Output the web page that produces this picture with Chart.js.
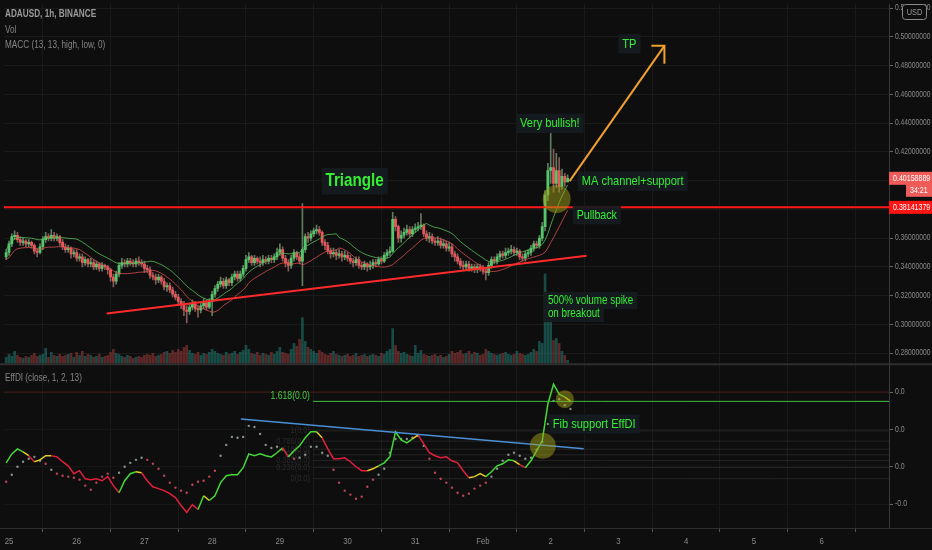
<!DOCTYPE html>
<html>
<head>
<meta charset="utf-8">
<script src="https://cdn.jsdelivr.net/npm/chart.js@4.4.0/dist/chart.umd.min.js"></script>
<style>
  html, body { margin: 0; padding: 0; background: #0e0e0e; }
  #wrap { position: relative; width: 932px; height: 550px; }
</style>
</head>
<body>
<div id="wrap"><canvas id="chart"></canvas></div>
<script>
// time axis is in hours since 25 Jan 00:00, one candle per hour
const dayLabels = ['25', '26', '27', '28', '29', '30', '31', 'Feb', '2', '3', '4', '5', '6', '7'];
const firstHour = -1;
const firstOpen = 0.347;

const closes = [
  0.350, 0.356, 0.361, 0.362, 0.359, 0.357, 0.358, 0.356, 0.357, 0.355,
  0.351, 0.350, 0.354, 0.359, 0.361, 0.360, 0.362, 0.360, 0.361, 0.357,
  0.354, 0.352, 0.353, 0.349, 0.350, 0.346, 0.347, 0.343, 0.345, 0.342,
  0.343, 0.340, 0.342, 0.339, 0.341, 0.340, 0.338, 0.333, 0.330, 0.335,
  0.341, 0.343, 0.342, 0.344, 0.343, 0.342, 0.344, 0.343, 0.342, 0.339,
  0.338, 0.334, 0.333, 0.331, 0.333, 0.330, 0.326, 0.327, 0.324, 0.321,
  0.319, 0.316, 0.314, 0.310, 0.309, 0.312, 0.314, 0.311, 0.310, 0.313,
  0.315, 0.312, 0.316, 0.321, 0.325, 0.328, 0.330, 0.327, 0.331, 0.329,
  0.333, 0.335, 0.332, 0.335, 0.339, 0.345, 0.347, 0.343, 0.346, 0.344,
  0.343, 0.345, 0.344, 0.346, 0.345, 0.347, 0.350, 0.352, 0.346, 0.343,
  0.341, 0.346, 0.350, 0.347, 0.344, 0.352, 0.361, 0.360, 0.363, 0.365,
  0.366, 0.364, 0.357, 0.355, 0.351, 0.349, 0.350, 0.348, 0.349, 0.347,
  0.348, 0.346, 0.344, 0.343, 0.345, 0.341, 0.340, 0.342, 0.340, 0.341,
  0.343, 0.342, 0.345, 0.344, 0.348, 0.350, 0.351, 0.373, 0.368, 0.360,
  0.362, 0.364, 0.366, 0.363, 0.366, 0.367, 0.368, 0.369, 0.363, 0.360,
  0.361, 0.358, 0.357, 0.358, 0.355, 0.356, 0.353, 0.354, 0.349, 0.347,
  0.344, 0.341, 0.340, 0.342, 0.339, 0.340, 0.338, 0.340, 0.339, 0.337,
  0.336, 0.341, 0.345, 0.344, 0.347, 0.349, 0.348, 0.350, 0.351, 0.352,
  0.350, 0.351, 0.347, 0.346, 0.349, 0.350, 0.353, 0.356, 0.355, 0.360,
  0.368, 0.390, 0.407, 0.409, 0.398, 0.407, 0.396, 0.403, 0.399, 0.40158889
];

const highs = [
  0.352, 0.358, 0.363, 0.365, 0.364, 0.361, 0.360, 0.359, 0.359, 0.358,
  0.356, 0.353, 0.356, 0.361, 0.364, 0.363, 0.366, 0.364, 0.363, 0.362,
  0.359, 0.356, 0.355, 0.354, 0.352, 0.352, 0.349, 0.349, 0.347, 0.346,
  0.346, 0.345, 0.344, 0.343, 0.343, 0.342, 0.341, 0.339, 0.335, 0.337,
  0.343, 0.346, 0.345, 0.346, 0.346, 0.345, 0.346, 0.347, 0.345, 0.344,
  0.341, 0.340, 0.336, 0.335, 0.335, 0.334, 0.332, 0.329, 0.329, 0.326,
  0.323, 0.321, 0.318, 0.316, 0.313, 0.314, 0.317, 0.316, 0.313, 0.315,
  0.318, 0.317, 0.318, 0.323, 0.327, 0.330, 0.333, 0.332, 0.333, 0.332,
  0.335, 0.337, 0.337, 0.337, 0.341, 0.348, 0.350, 0.348, 0.348, 0.347,
  0.347, 0.348, 0.347, 0.348, 0.348, 0.349, 0.353, 0.356, 0.354, 0.348,
  0.345, 0.348, 0.352, 0.351, 0.349, 0.384, 0.363, 0.364, 0.365, 0.367,
  0.369, 0.368, 0.365, 0.359, 0.357, 0.353, 0.353, 0.352, 0.352, 0.351,
  0.351, 0.350, 0.348, 0.346, 0.347, 0.347, 0.343, 0.344, 0.343, 0.344,
  0.345, 0.345, 0.347, 0.347, 0.350, 0.352, 0.354, 0.378, 0.375, 0.369,
  0.365, 0.367, 0.369, 0.368, 0.368, 0.370, 0.371, 0.377, 0.370, 0.365,
  0.364, 0.363, 0.360, 0.361, 0.360, 0.359, 0.358, 0.357, 0.356, 0.351,
  0.349, 0.346, 0.344, 0.344, 0.344, 0.342, 0.342, 0.342, 0.342, 0.341,
  0.339, 0.343, 0.347, 0.347, 0.349, 0.351, 0.351, 0.353, 0.353, 0.355,
  0.354, 0.353, 0.352, 0.349, 0.351, 0.352, 0.355, 0.358, 0.358, 0.362,
  0.371, 0.393, 0.412, 0.433, 0.422, 0.419, 0.416, 0.408, 0.405, 0.404
];

const lows = [
  0.345, 0.348, 0.354, 0.359, 0.357, 0.355, 0.355, 0.354, 0.354, 0.353,
  0.349, 0.347, 0.349, 0.352, 0.357, 0.358, 0.358, 0.358, 0.358, 0.355,
  0.352, 0.350, 0.350, 0.346, 0.347, 0.344, 0.344, 0.340, 0.341, 0.340,
  0.340, 0.338, 0.338, 0.337, 0.337, 0.338, 0.335, 0.330, 0.326, 0.328,
  0.333, 0.339, 0.340, 0.340, 0.341, 0.340, 0.340, 0.341, 0.340, 0.336,
  0.336, 0.332, 0.331, 0.328, 0.329, 0.328, 0.324, 0.323, 0.322, 0.319,
  0.317, 0.314, 0.311, 0.306, 0.301, 0.307, 0.310, 0.309, 0.305, 0.308,
  0.311, 0.310, 0.311, 0.306, 0.319, 0.323, 0.326, 0.325, 0.325, 0.327,
  0.327, 0.331, 0.330, 0.330, 0.333, 0.337, 0.343, 0.341, 0.341, 0.342,
  0.340, 0.341, 0.342, 0.342, 0.343, 0.343, 0.345, 0.348, 0.344, 0.340,
  0.337, 0.339, 0.344, 0.345, 0.342, 0.327, 0.350, 0.357, 0.358, 0.361,
  0.363, 0.362, 0.355, 0.352, 0.349, 0.346, 0.347, 0.345, 0.346, 0.344,
  0.345, 0.344, 0.342, 0.340, 0.341, 0.339, 0.338, 0.338, 0.337, 0.338,
  0.339, 0.340, 0.341, 0.342, 0.343, 0.346, 0.348, 0.350, 0.365, 0.357,
  0.357, 0.360, 0.362, 0.360, 0.361, 0.364, 0.365, 0.366, 0.361, 0.358,
  0.357, 0.356, 0.355, 0.355, 0.353, 0.353, 0.351, 0.351, 0.347, 0.344,
  0.342, 0.339, 0.338, 0.338, 0.337, 0.337, 0.336, 0.336, 0.337, 0.335,
  0.331, 0.334, 0.339, 0.342, 0.342, 0.345, 0.346, 0.346, 0.348, 0.349,
  0.348, 0.348, 0.345, 0.344, 0.344, 0.347, 0.348, 0.351, 0.353, 0.353,
  0.358, 0.365, 0.386, 0.398, 0.392, 0.395, 0.392, 0.394, 0.396, 0.399
];

// hourly volume, arbitrary units
const volumes = [
  6, 9, 7, 12, 8, 6, 5, 7, 6, 8,
  10, 7, 8, 9, 15, 6, 11, 8, 7, 9,
  7, 8, 9, 10, 6, 11, 8, 12, 7, 9,
  8, 6, 7, 9, 6, 7, 8, 11, 14, 10,
  9, 7, 6, 8, 7, 5, 6, 7, 6, 8,
  9, 8, 10, 7, 8, 9, 11, 12, 10, 13,
  11, 14, 12, 16, 18, 13, 10, 9, 11, 8,
  10, 9, 11, 14, 12, 10, 9, 8, 11, 9,
  10, 12, 9, 11, 13, 18, 14, 10, 9, 11,
  8, 10, 9, 8, 11, 9, 12, 16, 11, 10,
  9, 14, 20, 17, 24, 46, 22, 16, 14, 12,
  10, 13, 11, 9, 8, 10, 12, 9, 8, 7,
  8, 9, 7, 8, 10, 7, 8, 9, 7, 8,
  9, 8, 7, 10, 9, 12, 14, 35, 18, 12,
  10, 11, 9, 8, 7, 18, 10, 13, 9, 8,
  7, 8, 9, 7, 8, 6, 7, 9, 12, 10,
  11, 13, 9, 10, 12, 9, 11, 10, 8, 9,
  14, 12, 10, 9, 8, 9, 10, 11, 9, 8,
  9, 12, 10, 9, 8, 9, 11, 14, 12, 22,
  20, 90, 44, 44, 23, 25, 20, 12, 8, 3
];

const maLength = 13;
const resistance = 0.38141379;
const countdown = '34:21';
const supportLine = [[34.6, 0.3076], [204.7, 0.3477]];
const targetArrow = [[198.7, 0.3996], [232.3, 0.4937]];

// EffDI, sampled every 2 hours from hour -1, values x 0.001
const effStart = -1;
const effStep = 2;
const effdiLine = [
  2.1, 6.9, 9.6, 8.0, 5.9, 2.7, 3.7, 5.9, 5.9, 5.3,
  2.7, 0.5, -3.7, -2.1, -6.4, -6.9, -6.4, -7.5, -5.3, -10.1,
  -13.9, -7.5, -3.7, -2.7, -3.2, -7.5, -10.7, -11.7, -12.8, -14.4,
  -16.5, -20.8, -24.5, -20.3, -22.9, -15.5, -18.1, -15.5, -8.5, -4.8,
  -4.3, -4.3, -0.5, 6.9, 5.9, 6.9, 5.9, 5.3, 7.5, 10.1,
  5.3, 8.5, 11.2, 15.5, 18.7, 18.7, 15.5, 9.6, 4.3, 4.3,
  4.8, 2.7, 0, -2.1, -2.1, -1.1, 0.5, 2.1, 5.3, 18.7,
  14.4, 12.8, 14.9, 17.1, 12.3, 7.5, 5.9, 4.8, 5.3, 3.2,
  2.1, -2.1, -5.9, -5.3, -3.7, -5.3, -2.7, 0.5, 1.6, 3.7,
  3.2, 1.1, -0.5, 3.2, 8.5, 13.9, 33.6, 44.2, 38.9, 37.3,
  35.2
];
const effdiDots = [
  -8.0, -4.3, 0, 2.7, 4.3, 5.3, 3.2, 1.6, -1.6, -3.7,
  -4.8, -5.3, -5.9, -6.9, -10.1, -12.3, -8.5, -5.3, -3.7, -5.9,
  -3.2, 0, 2.1, 3.7, 4.8, 3.7, 1.6, -1.1, -4.8, -8.5,
  -11.2, -12.8, -13.9, -9.6, -8.0, -7.5, -5.3, -2.1, 5.9, 11.7,
  16.0, 15.5, 16.0, 21.9, 21.3, 17.6, 11.7, 10.1, 10.7, 9.1,
  5.9, 4.3, 4.8, 6.4, 10.7, 10.7, 7.5, 5.9, -1.6, -8.5,
  -12.8, -14.9, -17.1, -16.0, -10.7, -6.9, -4.3, -1.1, 7.5, 14.9,
  14.9, 14.9, 15.5, 16.5, 11.2, 4.3, -3.2, -6.4, -8.5, -11.2,
  -13.9, -15.5, -14.4, -11.7, -10.1, -8.5, -5.3, -1.1, 3.2, 6.4,
  7.5, 5.9, 4.3, 4.8, 9.1, 13.3, 22.9, 35.2, 36.2, 33.0,
  30.9
];
// colour runs: g = rising, y = flat, r = falling
const effdiLineRuns = [['y', 1], ['g', 3], ['y', 1], ['r', 1], ['y', 3], ['r', 12], ['g', 3], ['y', 1],
  ['r', 10], ['g', 1], ['y', 1], ['g', 13], ['r', 1], ['g', 5], ['y', 1], ['r', 8], ['y', 2], ['g', 6],
  ['y', 1], ['r', 9], ['y', 3], ['g', 5], ['y', 1], ['r', 1], ['g', 7], ['y', 1]];
const effdiDotRuns = [['r', 1], ['g', 6], ['r', 1], ['g', 1], ['r', 11], ['g', 5], ['r', 13], ['g', 11],
  ['r', 3], ['g', 6], ['r', 8], ['g', 9], ['r', 11], ['g', 15]];

const effTrend = [[82.2, 25.6], [203.7, 9.6]];
const fibStart = 107.7;
const fibLow = -6.4;
const fibHigh = 19.2;
const fibRatios = [0, 0.236, 0.382, 0.5, 0.618, 0.786, 1];
const fibExt = 1.618;
const effUpperLevel = 40;

const BG = '#0e0e0e';
const FONT = "'Liberation Sans', Arial, sans-serif";
const NARROW = 0.82;
const GREEN = '#55c76a';
const RED = '#e8575a';
const NOTE = '#33f033';
const AXIS_TEXT = '#8a8a8a';
const xMin = -1.765;
const xMax = 311.9;

function sma(src, n) {
  return src.map((v, i) => {
    const part = src.slice(Math.max(0, i - n + 1), i + 1);
    return part.reduce((a, b) => a + b, 0) / part.length;
  });
}
function expandRuns(runs) {
  return runs.flatMap(([c, n]) => Array(n).fill(c));
}

const hours = closes.map((_, i) => firstHour + i);
const opens = closes.map((c, i) => (i === 0 ? firstOpen : closes[i - 1]));
const isUp = closes.map((c, i) => c >= opens[i]);
const maHigh = sma(highs, maLength);
const maLow = sma(lows, maLength);
const effHours = effdiLine.map((_, k) => effStart + effStep * k);
const lineCodes = expandRuns(effdiLineRuns);
const dotCodes = expandRuns(effdiDotRuns);
const lineColor = { g: '#44d838', y: '#e3cf25', r: '#e0203c' };
const dotColor = { g: 'rgba(150,170,155,0.85)', r: 'rgba(205,75,95,0.9)' };

const pts = (xs, ys) => xs.map((x, i) => ({ x: x, y: ys[i] }));
const seg = (pair) => pair.map(p => ({ x: p[0], y: p[1] }));
const flat = (x0, v) => [{ x: x0, y: v }, { x: xMax + 1, y: v }];

const datasets = [
  { type: 'line', data: seg(targetArrow), borderColor: '#f0a030', borderWidth: 2, pointRadius: 0, order: 1 },
  { type: 'line', data: flat(xMin - 1, resistance), borderColor: '#ff1a1a', borderWidth: 2, pointRadius: 0, order: 2 },
  { type: 'line', data: seg(supportLine), borderColor: '#ff2a2a', borderWidth: 2, pointRadius: 0, order: 2 },
  { type: 'line', data: pts(hours, maHigh), borderColor: 'rgba(90,190,90,0.8)', borderWidth: 1, pointRadius: 0, order: 3 },
  { type: 'line', data: pts(hours, maLow), borderColor: 'rgba(215,80,80,0.8)', borderWidth: 1, pointRadius: 0, order: 3 },
  { type: 'bar', data: hours.map((h, i) => ({ x: h, y: [opens[i], closes[i]] })),
    backgroundColor: isUp.map(u => (u ? GREEN : RED)), barThickness: 2.2, grouped: false, order: 4 },
  { type: 'bar', data: hours.map((h, i) => ({ x: h, y: [lows[i], highs[i]] })),
    backgroundColor: isUp.map(u => (u ? 'rgba(150,200,150,0.6)' : 'rgba(215,140,140,0.6)')), barThickness: 1, grouped: false, order: 5 },
  { type: 'bar', yAxisID: 'yv', data: hours.map((h, i) => ({ x: h, y: volumes[i] })),
    backgroundColor: isUp.map(u => (u ? 'rgba(38,150,140,0.45)' : 'rgba(190,70,70,0.45)')), barThickness: 2, grouped: false, order: 6 },

  { type: 'line', yAxisID: 'y2', data: pts(effHours, effdiLine), borderWidth: 1.5, pointRadius: 0, order: 3,
    segment: { borderColor: ctx => lineColor[lineCodes[ctx.p1DataIndex]] } },
  { type: 'line', yAxisID: 'y2', data: pts(effHours, effdiDots), showLine: false, pointRadius: 1.2, pointBorderWidth: 0,
    pointBackgroundColor: dotCodes.map(c => dotColor[c]), order: 4 },
  { type: 'line', yAxisID: 'y2', data: seg(effTrend), borderColor: '#4a8fd6', borderWidth: 1.5, pointRadius: 0, order: 2 },
  { type: 'line', yAxisID: 'y2', data: flat(fibStart, fibLow + fibExt * (fibHigh - fibLow)), borderColor: '#3fbf3f', borderWidth: 1, pointRadius: 0, order: 2 },
  { type: 'line', yAxisID: 'y2', data: flat(xMin - 1, effUpperLevel), borderColor: 'rgba(110,30,30,0.6)', borderWidth: 1, pointRadius: 0, order: 6 }
];
fibRatios.forEach(r => {
  datasets.push({ type: 'line', yAxisID: 'y2', data: flat(fibStart, fibLow + r * (fibHigh - fibLow)),
    borderColor: 'rgba(120,120,120,0.22)', borderWidth: 1, pointRadius: 0, order: 6 });
});

const notes = [
  { text: 'Triangle', x: 122.5, v: 0.3996, axis: 'y', align: 'center', size: 18.5, bold: true },
  { text: 'Very bullish!', x: 191.7, v: 0.4398, axis: 'y', align: 'center', size: 13.5 },
  { text: 'MA channel+support', x: 203, v: 0.3996, axis: 'y', align: 'left', size: 13.5 },
  { text: 'Pullback', x: 201.2, v: 0.3761, axis: 'y', align: 'left', size: 13 },
  { text: '500% volume spike', x: 191, v: 0.3166, axis: 'y', align: 'left', size: 12 },
  { text: 'on breakout', x: 191, v: 0.3076, axis: 'y', align: 'left', size: 12 },
  { text: 'TP', x: 219.9, v: 0.4951, axis: 'y', align: 'center', size: 13.5 },
  { text: 'Fib support EffDI', x: 192.7, v: 22.9, axis: 'y2', align: 'left', size: 13.5 }
];
const highlights = [
  { x: 194.1, v: 0.3872, axis: 'y', r: 14 },
  { x: 197, v: 36.2, axis: 'y2', r: 9 },
  { x: 189.2, v: 11.2, axis: 'y2', r: 13 }
];

// text squeezed horizontally to look like the narrow chart font
function drawText(ctx, text, x, y, size, color, align, bold, box) {
  ctx.font = (bold ? 'bold ' : '') + size + 'px ' + FONT;
  const w = ctx.measureText(text).width * NARROW;
  const left = align === 'center' ? x - w / 2 : align === 'right' ? x - w : x;
  if (box) {
    ctx.fillStyle = box;
    ctx.fillRect(left - 4, y - size * 0.72, w + 8, size * 1.44);
  }
  ctx.save();
  ctx.translate(left, y);
  ctx.scale(NARROW, 1);
  ctx.fillStyle = color;
  ctx.textAlign = 'left';
  ctx.textBaseline = 'middle';
  ctx.fillText(text, 0, 0);
  ctx.restore();
}

function badge(ctx, text, y, bg, left) {
  ctx.fillStyle = bg;
  ctx.fillRect(left, y - 6.5, 932 - left, 13);
  drawText(ctx, text, left + 4, y + 0.5, 8.6, '#ffffff', 'left', false, null);
}

const overlay = {
  id: 'overlay',
  beforeDraw(chart) {
    const c = chart.ctx;
    c.save();
    c.fillStyle = BG;
    c.fillRect(0, 0, chart.width, chart.height);
    c.restore();
  },
  afterDatasetsDraw(chart) {
    const c = chart.ctx;
    const sx = chart.scales.x;
    c.save();
    highlights.forEach(h => {
      c.beginPath();
      c.arc(sx.getPixelForValue(h.x), chart.scales[h.axis].getPixelForValue(h.v), h.r, 0, Math.PI * 2);
      c.fillStyle = 'rgba(160,160,25,0.5)';
      c.fill();
    });
    // arrow head at the target end
    const ex = sx.getPixelForValue(targetArrow[1][0]);
    const ey = chart.scales.y.getPixelForValue(targetArrow[1][1]);
    c.strokeStyle = '#f0a030';
    c.lineWidth = 2;
    c.beginPath();
    c.moveTo(ex - 13, ey);
    c.lineTo(ex, ey);
    c.lineTo(ex, ey + 18);
    c.stroke();
    notes.forEach(n => {
      drawText(c, n.text, sx.getPixelForValue(n.x), chart.scales[n.axis].getPixelForValue(n.v),
        n.size, NOTE, n.align, n.bold, 'rgba(22,27,32,0.92)');
    });
    // fib labels
    const fx = sx.getPixelForValue(fibStart) - 3;
    const y2 = chart.scales.y2;
    fibRatios.forEach(r => {
      drawText(c, r + '(0.0)', fx, y2.getPixelForValue(fibLow + r * (fibHigh - fibLow)), 9, 'rgba(120,120,120,0.25)', 'right', false, null);
    });
    drawText(c, fibExt + '(0.0)', fx, y2.getPixelForValue(fibLow + fibExt * (fibHigh - fibLow)) - 5, 10.5, '#3fd03f', 'right', false, null);
    c.restore();
  },
  afterDraw(chart) {
    const c = chart.ctx;
    const sx = chart.scales.x;
    const sy = chart.scales.y;
    const sy2 = chart.scales.y2;
    const axisLeft = chart.chartArea.right;
    c.save();
    // axis labels
    sy.ticks.forEach(t => drawText(c, t.value.toFixed(8), axisLeft + 6, sy.getPixelForValue(t.value), 8.2, AXIS_TEXT, 'left', false, null));
    sy2.ticks.forEach(t => drawText(c, (t.value / 1000).toFixed(1), axisLeft + 6, sy2.getPixelForValue(t.value), 8.5, AXIS_TEXT, 'left', false, null));
    sx.ticks.forEach(t => drawText(c, dayLabels[Math.round(t.value / 24)] || '', sx.getPixelForValue(t.value), chart.chartArea.bottom + 13, 9.5, AXIS_TEXT, 'center', false, null));
    // pane separators
    c.fillStyle = '#2e2e2e';
    c.fillRect(0, sy.bottom - 1, chart.width, 2);
    c.fillRect(0, chart.chartArea.bottom, chart.width, 1);
    // legends
    drawText(c, 'ADAUSD, 1h, BINANCE', 5, 14, 10, '#9a9a9a', 'left', true, null);
    drawText(c, 'Vol', 5, 30, 10, '#858585', 'left', false, null);
    drawText(c, 'MACC (13, 13, high, low, 0)', 5, 45, 10, '#858585', 'left', false, null);
    drawText(c, 'EffDI (close, 1, 2, 13)', 5, sy.bottom + 14, 10, '#858585', 'left', false, null);
    // price badges
    const last = closes[closes.length - 1];
    const ly = sy.getPixelForValue(last);
    badge(c, last.toFixed(8), ly, '#ee5b58', axisLeft);
    badge(c, countdown, ly + 12, '#ee5b58', 906);
    badge(c, resistance.toFixed(8), sy.getPixelForValue(resistance), '#ff1414', axisLeft);
    // currency button
    c.strokeStyle = '#8a8a8a';
    c.lineWidth = 1;
    c.beginPath();
    c.roundRect(902.5, 4.5, 24, 15, 3);
    c.fillStyle = BG;
    c.fill();
    c.stroke();
    drawText(c, 'USD', 914.5, 12.5, 9, '#9a9a9a', 'center', false, null);
    c.restore();
  }
};

new Chart(document.getElementById('chart'), {
  type: 'line',
  data: { datasets: datasets },
  options: {
    responsive: true,
    maintainAspectRatio: false,
    animation: false,
    events: [],
    layout: { padding: 0 },
    plugins: { legend: { display: false }, tooltip: { enabled: false } },
    scales: {
      x: {
        type: 'linear', min: xMin, max: xMax, offset: false,
        ticks: { display: false, stepSize: 24, includeBounds: false, autoSkip: false },
        grid: { color: '#1a1a1a', tickColor: '#555', tickLength: 4 },
        border: { color: '#3a3a3a' },
        afterFit: s => { s.height = 22; }
      },
      y: {
        type: 'linear', position: 'right', stack: 'panes', stackWeight: 363,
        min: 0.2723, max: 0.5228,
        ticks: { display: false, stepSize: 0.02, includeBounds: false },
        grid: { color: '#1a1a1a', tickColor: '#666', tickLength: 4 },
        border: { color: '#3a3a3a' },
        afterFit: s => { s.width = 43; }
      },
      y2: {
        type: 'linear', position: 'right', stack: 'panes', stackWeight: 165,
        min: -32.8, max: 54.9,
        ticks: { display: false, stepSize: 20, includeBounds: false },
        grid: { color: '#161616', tickColor: '#666', tickLength: 4 },
        border: { color: '#3a3a3a' },
        afterFit: s => { s.width = 43; }
      },
      yv: { display: false, min: -166, max: 362 }
    }
  },
  plugins: [overlay]
});
</script>
</body>
</html>
